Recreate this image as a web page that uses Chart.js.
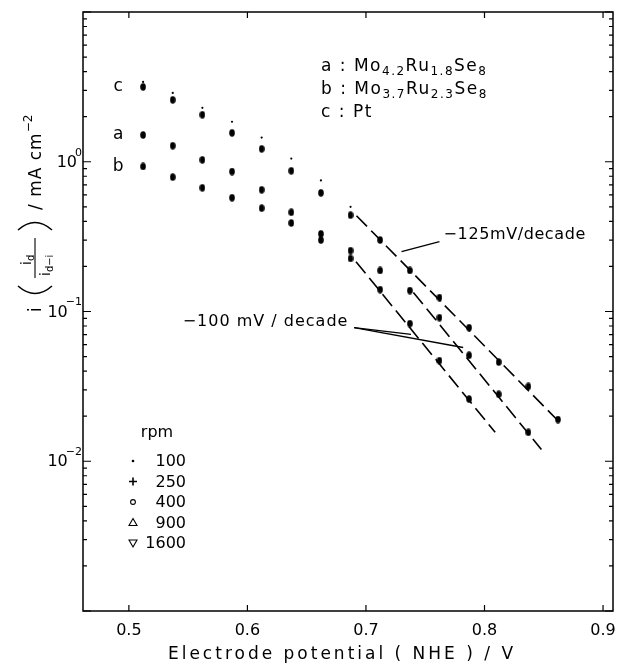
<!DOCTYPE html>
<html>
<head>
<meta charset="utf-8">
<script src="https://cdn.jsdelivr.net/npm/chart.js@4.4.1/dist/chart.umd.min.js"></script>
<style>
  html, body { margin: 0; padding: 0; background: #fff; }
  canvas { display: block; }
</style>
</head>
<body>
<canvas id="chart" width="617" height="668"></canvas>
<script>
// electrode potential (V vs NHE) of the measured points
const potentials = [0.512, 0.537, 0.562, 0.587, 0.612, 0.637, 0.662, 0.687, 0.712, 0.737, 0.762, 0.787, 0.812, 0.837, 0.862];

// i*id/(id-i) in mA cm-2
const currentA = [1.51, 1.28, 1.03, 0.86, 0.65, 0.46, 0.33, 0.255, 0.188, 0.138, 0.091, 0.051, 0.028, 0.0156];
const currentB = [0.93, 0.79, 0.67, 0.575, 0.49, 0.39, 0.30, 0.226, 0.14, 0.083, 0.047, 0.026];
const currentC = [3.16, 2.59, 2.06, 1.56, 1.22, 0.87, 0.62, 0.44, 0.30, 0.188, 0.124, 0.078, 0.046, 0.0316, 0.019];
// the 100 rpm points of Pt sit a bit above the others
const currentC100 = [3.41, 2.88, 2.29, 1.85, 1.45, 1.05, 0.75, 0.50];

// dashed Tafel lines, [start, end]
const tafelCx = [0.692, 0.861], tafelCy = [0.436, 0.019];
const tafelAx = [0.740, 0.848], tafelAy = [0.134, 0.012];
const tafelBx = [0.6916, 0.809], tafelBy = [0.215, 0.0156];

// leader lines for the slope notes
const lead125x = [0.730, 0.762], lead125y = [0.251, 0.293];
const lead100ax = [0.690, 0.738], lead100ay = [0.078, 0.0703];
const lead100bx = [0.690, 0.782], lead100by = [0.078, 0.0575];

// ticks
const xTicks = [0.5, 0.6, 0.7, 0.8, 0.9];
const yTicks = [1, 0.1, 0.01];
const yTickExp = ['0', '\u22121', '\u22122'];

const rpmValues = ['100', '250', '400', '900', '1600'];

const FONT = (size) => size + 'px "DejaVu Sans", sans-serif';

const pts = (xs, ys) => ys.map((y, i) => ({ x: xs[i], y }));

// elongated blob used for the data points
const blob = document.createElement('canvas');
blob.width = 6; blob.height = 8;
{
    const b = blob.getContext('2d');
    b.fillStyle = '#000';
    b.beginPath();
    b.ellipse(3, 4, 2.8, 3.8, 0, 0, Math.PI * 2);
    b.fill();
}

const dashed = (data) => ({
    data, showLine: true, pointRadius: 0, borderColor: '#000',
    borderWidth: 1.6, borderDash: [15, 6], fill: false
});
const solid = (data) => ({
    data, showLine: true, pointRadius: 0, borderColor: '#000',
    borderWidth: 1.3, fill: false
});
const marks = (data, style, r) => ({
    data, showLine: false, pointStyle: style, pointRadius: r,
    backgroundColor: '#000', borderColor: '#000', borderWidth: 0
});

function sub(ctx, x, y, parts, big, small, drop) {
    // draws text pieces, every second one as a subscript
    parts.forEach((p, i) => {
        const s = i % 2 === 1;
        ctx.font = FONT(s ? small : big);
        ctx.fillText(p, x, y + (s ? drop : 0));
        x += ctx.measureText(p).width;
    });
    return x;
}

const decor = {
    id: 'decor',
    afterDraw(chart) {
        const ctx = chart.ctx;
        const { left, right, top, bottom } = chart.chartArea;
        const xs = chart.scales.x, ys = chart.scales.y;
        ctx.save();
        ctx.strokeStyle = '#000';
        ctx.fillStyle = '#000';

        // frame
        ctx.lineWidth = 1.5;
        ctx.strokeRect(left, top, right - left, bottom - top);

        // x ticks, inward on bottom and top
        ctx.lineWidth = 1.2;
        ctx.font = FONT(16);
        ctx.textAlign = 'center';
        ctx.textBaseline = 'middle';
        xTicks.forEach(v => {
            const px = xs.getPixelForValue(v);
            ctx.beginPath();
            ctx.moveTo(px, bottom); ctx.lineTo(px, bottom - 6);
            ctx.moveTo(px, top); ctx.lineTo(px, top + 6);
            ctx.stroke();
            ctx.fillText(v.toFixed(1), px, 631);
        });

        // y ticks (log), inward on left and right
        for (let e = -3; e <= 1; e++) {
            for (let m = 1; m <= 9; m++) {
                const v = m * Math.pow(10, e);
                if (v > 10.0001) break;
                const py = ys.getPixelForValue(v);
                const len = m === 1 ? 8 : 4;
                ctx.beginPath();
                ctx.moveTo(left, py); ctx.lineTo(left + len, py);
                ctx.moveTo(right, py); ctx.lineTo(right - len, py);
                ctx.stroke();
            }
        }

        // y tick labels 10^n
        ctx.textBaseline = 'middle';
        yTicks.forEach((v, i) => {
            const py = ys.getPixelForValue(v);
            ctx.font = FONT(11);
            ctx.textAlign = 'right';
            const we = ctx.measureText(yTickExp[i]).width;
            ctx.fillText(yTickExp[i], left - 1, py - 9);
            ctx.font = FONT(16);
            ctx.fillText('10', left - we + 1, py + 1);
        });

        // x title
        ctx.font = FONT(17);
        ctx.textAlign = 'center';
        ctx.letterSpacing = '3px';
        ctx.fillText('Electrode potential ( NHE ) / V', 342, 655);
        ctx.letterSpacing = '0px';

        // y title, rotated
        ctx.save();
        ctx.translate(41, 316);
        ctx.rotate(-Math.PI / 2);
        ctx.textAlign = 'left';
        ctx.textBaseline = 'alphabetic';
        ctx.font = FONT(17);
        ctx.fillText('i', 4, 0);
        ctx.lineWidth = 1.5;
        ctx.beginPath();
        ctx.moveTo(30, -23); ctx.quadraticCurveTo(15, -6, 30, 11);
        ctx.moveTo(86, -23); ctx.quadraticCurveTo(101, -6, 86, 11);
        ctx.stroke();
        // fraction id / (id - i)
        sub(ctx, 51, -10, ['i', 'd'], 14, 10, 3);
        sub(ctx, 40, 9, ['i', 'd\u2212i'], 14, 10, 3);
        ctx.lineWidth = 1.1;
        ctx.beginPath();
        ctx.moveTo(38, -6); ctx.lineTo(78, -6);
        ctx.stroke();
        ctx.font = FONT(17);
        ctx.letterSpacing = '1px';
        ctx.fillText('/ mA cm', 106, 0);
        const wT = ctx.measureText('/ mA cm').width;
        ctx.letterSpacing = '0px';
        ctx.font = FONT(12);
        ctx.fillText('\u22122', 106 + wT, -9);
        ctx.restore();

        // series letters on the left
        ctx.font = FONT(17);
        ctx.textAlign = 'center';
        ctx.textBaseline = 'middle';
        ctx.fillText('c', xs.getPixelForValue(0.491), ys.getPixelForValue(currentC[0]));
        ctx.fillText('a', xs.getPixelForValue(0.491), ys.getPixelForValue(currentA[0]));
        ctx.fillText('b', xs.getPixelForValue(0.491), ys.getPixelForValue(currentB[0]));

        // material key, top right
        ctx.textAlign = 'left';
        ctx.textBaseline = 'middle';
        ctx.letterSpacing = '1.5px';
        sub(ctx, 321, 67, ['a : Mo', '4.2', 'Ru', '1.8', 'Se', '8'], 17, 12, 5);
        sub(ctx, 321, 90, ['b : Mo', '3.7', 'Ru', '2.3', 'Se', '8'], 17, 12, 5);
        sub(ctx, 321, 113, ['c : Pt'], 17, 12, 5);

        // slope notes
        ctx.letterSpacing = '0.6px';
        ctx.font = FONT(16);
        ctx.fillText('\u2212125mV/decade', xs.getPixelForValue(0.7655), ys.getPixelForValue(0.326));
        ctx.letterSpacing = '1px';
        ctx.fillText('\u2212100 mV / decade', xs.getPixelForValue(0.5454), ys.getPixelForValue(0.0858));
        ctx.letterSpacing = '0px';

        // rpm key
        ctx.font = FONT(16);
        ctx.textAlign = 'center';
        ctx.fillText('rpm', 157, 433);
        ctx.textAlign = 'right';
        ctx.lineWidth = 1.1;
        rpmValues.forEach((r, i) => {
            const y = 461 + i * 20.5;
            ctx.fillText(r, 186, y + 1);
            const mx = 133;
            ctx.beginPath();
            if (i === 0) {
                ctx.arc(mx, y, 1.3, 0, Math.PI * 2); ctx.fill();
            } else if (i === 1) {
                ctx.moveTo(mx - 4, y); ctx.lineTo(mx + 4, y);
                ctx.moveTo(mx, y - 4); ctx.lineTo(mx, y + 4);
                ctx.lineWidth = 1.6; ctx.stroke(); ctx.lineWidth = 1.1;
            } else if (i === 2) {
                ctx.arc(mx, y, 2.4, 0, Math.PI * 2); ctx.stroke();
            } else if (i === 3) {
                ctx.moveTo(mx, y - 4); ctx.lineTo(mx + 4, y + 3); ctx.lineTo(mx - 4, y + 3);
                ctx.closePath(); ctx.stroke();
            } else {
                ctx.moveTo(mx, y + 4); ctx.lineTo(mx + 4, y - 3); ctx.lineTo(mx - 4, y - 3);
                ctx.closePath(); ctx.stroke();
            }
        });
        ctx.restore();
    }
};

new Chart(document.getElementById('chart'), {
    type: 'scatter',
    data: {
        datasets: [
            dashed(pts(tafelCx, tafelCy)),
            dashed(pts(tafelAx, tafelAy)),
            dashed(pts(tafelBx, tafelBy)),
            solid(pts(lead125x, lead125y)),
            solid(pts(lead100ax, lead100ay)),
            solid(pts(lead100bx, lead100by)),
            marks(pts(potentials, currentA), blob, 4),
            marks(pts(potentials, currentB), blob, 4),
            marks(pts(potentials, currentC), blob, 4),
            marks(pts(potentials, currentC100), 'circle', 1.1)
        ]
    },
    options: {
        responsive: false,
        animation: false,
        events: [],
        layout: { padding: { top: 12, right: 2, left: 0, bottom: 0 } },
        plugins: { legend: { display: false }, tooltip: { enabled: false } },
        scales: {
            x: {
                type: 'linear', min: 0.4613, max: 0.9084,
                ticks: { display: false }, grid: { display: false }, border: { display: false },
                afterFit: (s) => { s.height = 57; }
            },
            y: {
                type: 'logarithmic', min: 0.001, max: 10,
                ticks: { display: false }, grid: { display: false }, border: { display: false },
                afterFit: (s) => { s.width = 83; }
            }
        }
    },
    plugins: [decor]
});
</script>
</body>
</html>
